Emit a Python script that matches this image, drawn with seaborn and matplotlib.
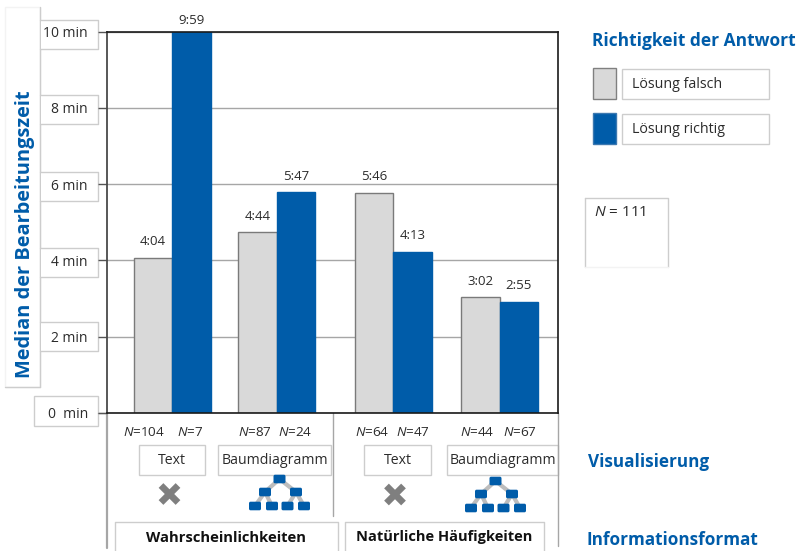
import matplotlib
matplotlib.use("Agg")
import matplotlib.pyplot as plt
from matplotlib.patches import FancyBboxPatch, Rectangle
import pandas as pd
import seaborn as sns

# Chart values
visualisierung = ["Text", "Baumdiagramm", "Text", "Baumdiagramm"]
informationsformat = ["Wahrscheinlichkeiten", "Natürliche Häufigkeiten"]
falsch_zeit = ["4:04", "4:44", "5:46", "3:02"]
richtig_zeit = ["9:59", "5:47", "4:13", "2:55"]
falsch_n = [104, 87, 64, 44]
richtig_n = [7, 24, 47, 67]
y_ticks = [0, 2, 4, 6, 8, 10]

BLUE = "#005CA9"
GREY = "#D9D9D9"
BOX = "#CDCDCD"
TEXT = "#2B2B2B"
FONT = "Open Sans"


def minutes(stamp):
    m, s = stamp.split(":")
    return int(m) + int(s) / 60


sns.set_theme(style="white")
plt.rcParams["font.family"] = [FONT, "DejaVu Sans"]
plt.rcParams["mathtext.fontset"] = "custom"
plt.rcParams["mathtext.it"] = f"{FONT}:italic"
plt.rcParams["mathtext.rm"] = FONT

W, H = 799, 551
fig = plt.figure(figsize=(W / 100, H / 100), dpi=100, facecolor="white")

# Full-size layer in pixel units for boxes, captions and icons
ov = fig.add_axes([0, 0, 1, 1], zorder=0)
ov.set_xlim(0, W)
ov.set_ylim(H, 0)
ov.axis("off")

# Plot area
left, right, top, bottom = 107, 558, 31.5, 413
ax = fig.add_axes([left / W, 1 - bottom / H, (right - left) / W, (bottom - top) / H],
                  zorder=1, facecolor="white")

group_x = [172, 276.5, 393, 499.5]
df = pd.DataFrame({
    "pos": group_x * 2,
    "minuten": [minutes(t) for t in falsch_zeit + richtig_zeit],
    "antwort": ["Lösung falsch"] * 4 + ["Lösung richtig"] * 4,
})
sns.barplot(data=df, x="pos", y="minuten", hue="antwort", native_scale=True,
            hue_order=["Lösung falsch", "Lösung richtig"],
            palette=[GREY, BLUE], width=77 / 104.5, gap=0, legend=False, ax=ax,
            saturation=1, linewidth=1, edgecolor="#7A7A7A")
for patch in ax.containers[1]:
    patch.set_edgecolor(BLUE)

ax.set_xlim(left, right)
ax.set_ylim(0, 10)
ax.set_xticks([])
ax.set_xlabel("")
ax.set_ylabel("Median der Bearbeitungszeit", color=BLUE, fontsize=14.4,
              fontweight="bold", labelpad=0)
ax.yaxis.set_label_coords((35.5 - left) / (right - left), (bottom - 234) / (bottom - top))
ax.set_yticks(y_ticks)
ax.set_yticklabels([f"{v}  min" if v == 0 else f"{v} min" for v in y_ticks],
                   fontsize=10, color=TEXT)
ax.tick_params(axis="y", left=True, length=6.8, width=1, color="#555555", pad=7)
ax.set_axisbelow(True)
ax.grid(axis="y", color="#A6A6A6", linewidth=1)
ax.spines["left"].set_color("#4A4A4A")
ax.spines["left"].set_linewidth(1.3)
for side in ("top", "right", "bottom"):
    ax.spines[side].set_color("#1A1A1A")
    ax.spines[side].set_linewidth(1.2)
    ax.spines[side].set_visible(True)
ax.spines["left"].set_visible(True)

# Time stamps above the bars
for container, stamps in zip(ax.containers, [falsch_zeit, richtig_zeit]):
    notes = ax.bar_label(container, labels=stamps, padding=7, fontsize=9.5, color=TEXT,
                         clip_on=False)
    for note, stamp in zip(notes, stamps):
        if minutes(stamp) > 9.5:
            # the tallest bar reaches the frame, so its stamp sits a little closer
            note.xyann = (0, 4)


def box(x0, y0, x1, y1, color=BOX, lw=1):
    ov.add_patch(Rectangle((x0, y0), x1 - x0, y1 - y0, facecolor="white",
                           edgecolor=color, linewidth=lw))


# Axis caption panel and the tick-label panels on top of it
box(5, 7, 40, 387, color="#F3F3F3")
ov.plot([40, 40], [7, 387], color=BOX, lw=1)
ov.plot([5, 40], [387, 387], color=BOX, lw=1)
for y0, y1 in [(20, 49), (95, 124), (172, 201), (248, 277), (322, 351)]:
    ov.add_patch(Rectangle((40.6, y0), 57, y1 - y0, facecolor="white",
                           edgecolor="none", zorder=2))
    ov.plot([40, 97.5, 97.5, 40], [y0, y0, y1, y1], color=BOX, lw=1, zorder=3)
box(34, 396, 97.5, 426)
ov.plot([97.5, 107], [413, 413], color="#A6A6A6", lw=1)

# Lines below the plot area
ov.plot([107, 107], [413, 548], color="#A6A6A6", lw=1.6)
ov.plot([333, 333], [413, 516], color="#A6A6A6", lw=1)
ov.plot([558, 558], [413, 546], color="#A6A6A6", lw=1)

# Group sizes under each bar
n_x = [(144, 190), (255, 295), (372, 413), (477, 520)]
for (xa, xb), na, nb in zip(n_x, falsch_n, richtig_n):
    ov.text(xa, 432, rf"$\mathit{{N}}$={na}", ha="center", va="center", fontsize=9.7, color=TEXT)
    ov.text(xb, 432, rf"$\mathit{{N}}$={nb}", ha="center", va="center", fontsize=9.7, color=TEXT)

# Visualisation captions
vis_boxes = [(138.5, 205), (217.5, 331), (363.5, 430.5), (446.5, 558)]
for (x0, x1), label in zip(vis_boxes, visualisierung):
    box(x0, 444.5, x1, 474.5)
    ov.text((x0 + x1) / 2 + 0.5, 460.5, label, ha="center", va="center", fontsize=10.2, color=TEXT)


def cross(cx, cy):
    for dx in (1, -1):
        ov.plot([cx - 8.5 * dx, cx + 8.5 * dx], [cy - 8.5, cy + 8.5], color="#7F7F7F", lw=4.8,
                solid_capstyle="butt")


def tree(cx, cy):
    nodes = [(0, -14), (-14.5, -1), (16.5, -1), (-24.5, 13), (-7.5, 13), (8, 13), (24.5, 13)]
    edges = [(0, 1), (0, 2), (1, 3), (1, 4), (2, 5), (2, 6)]
    for a, b in edges:
        ov.plot([cx + nodes[a][0], cx + nodes[b][0]], [cy + nodes[a][1], cy + nodes[b][1]],
                color="#BDBDBD", lw=3, zorder=2)
    for nx, ny in nodes:
        ov.add_patch(FancyBboxPatch((cx + nx - 4.7, cy + ny - 3), 9.4, 6,
                                    boxstyle="round,pad=1.3,rounding_size=1.6",
                                    facecolor=BLUE, edgecolor="none", zorder=3))


cross(169.5, 494)
tree(279.5, 493)
cross(395, 494.5)
tree(495.5, 495)

# Information format captions
fmt_boxes = [(115, 338), (345, 544)]
fmt_sizes = [10.6, 10.5]
for (x0, x1), label, size in zip(fmt_boxes, informationsformat, fmt_sizes):
    ov.plot([x0, x0, x1, x1], [H, 522, 522, H], color=BOX, lw=1)
    ov.text((x0 + x1) / 2, 537.5, label, ha="center", va="center", fontsize=size,
            fontweight="bold", color="#111111")

# Legend and side captions
ov.text(592, 41.5, "Richtigkeit der Antwort", ha="left", va="center", fontsize=12.55,
        fontweight="bold", color=BLUE)
ov.add_patch(Rectangle((592.5, 67.5), 23, 31, facecolor=GREY, edgecolor="#808080", lw=1))
ov.add_patch(Rectangle((592.5, 112.5), 23, 31, facecolor=BLUE, edgecolor="#3C78B0", lw=1))
for y0, label in [(69, "Lösung falsch"), (114, "Lösung richtig")]:
    box(622, y0, 768.5, y0 + 29.5)
    ov.text(632, y0 + 15.5, label, ha="left", va="center", fontsize=10.3, color=TEXT)

ov.plot([585, 585], [198, 267], color=BOX, lw=1)
ov.plot([585, 667.5, 667.5], [198, 198, 267], color=BOX, lw=1)
ov.plot([585, 667.5], [267, 267], color="#F3F3F3", lw=1)
ov.text(594.5, 212.5, r"$\mathit{N}$ = 111", ha="left", va="center", fontsize=11, color=TEXT)

ov.text(587.5, 462, "Visualisierung", ha="left", va="center", fontsize=12.3,
        fontweight="bold", color=BLUE)
ov.text(586, 540, "Informationsformat", ha="left", va="center", fontsize=12.3,
        fontweight="bold", color=BLUE)

fig.savefig("out.png", dpi=100, facecolor="white")
